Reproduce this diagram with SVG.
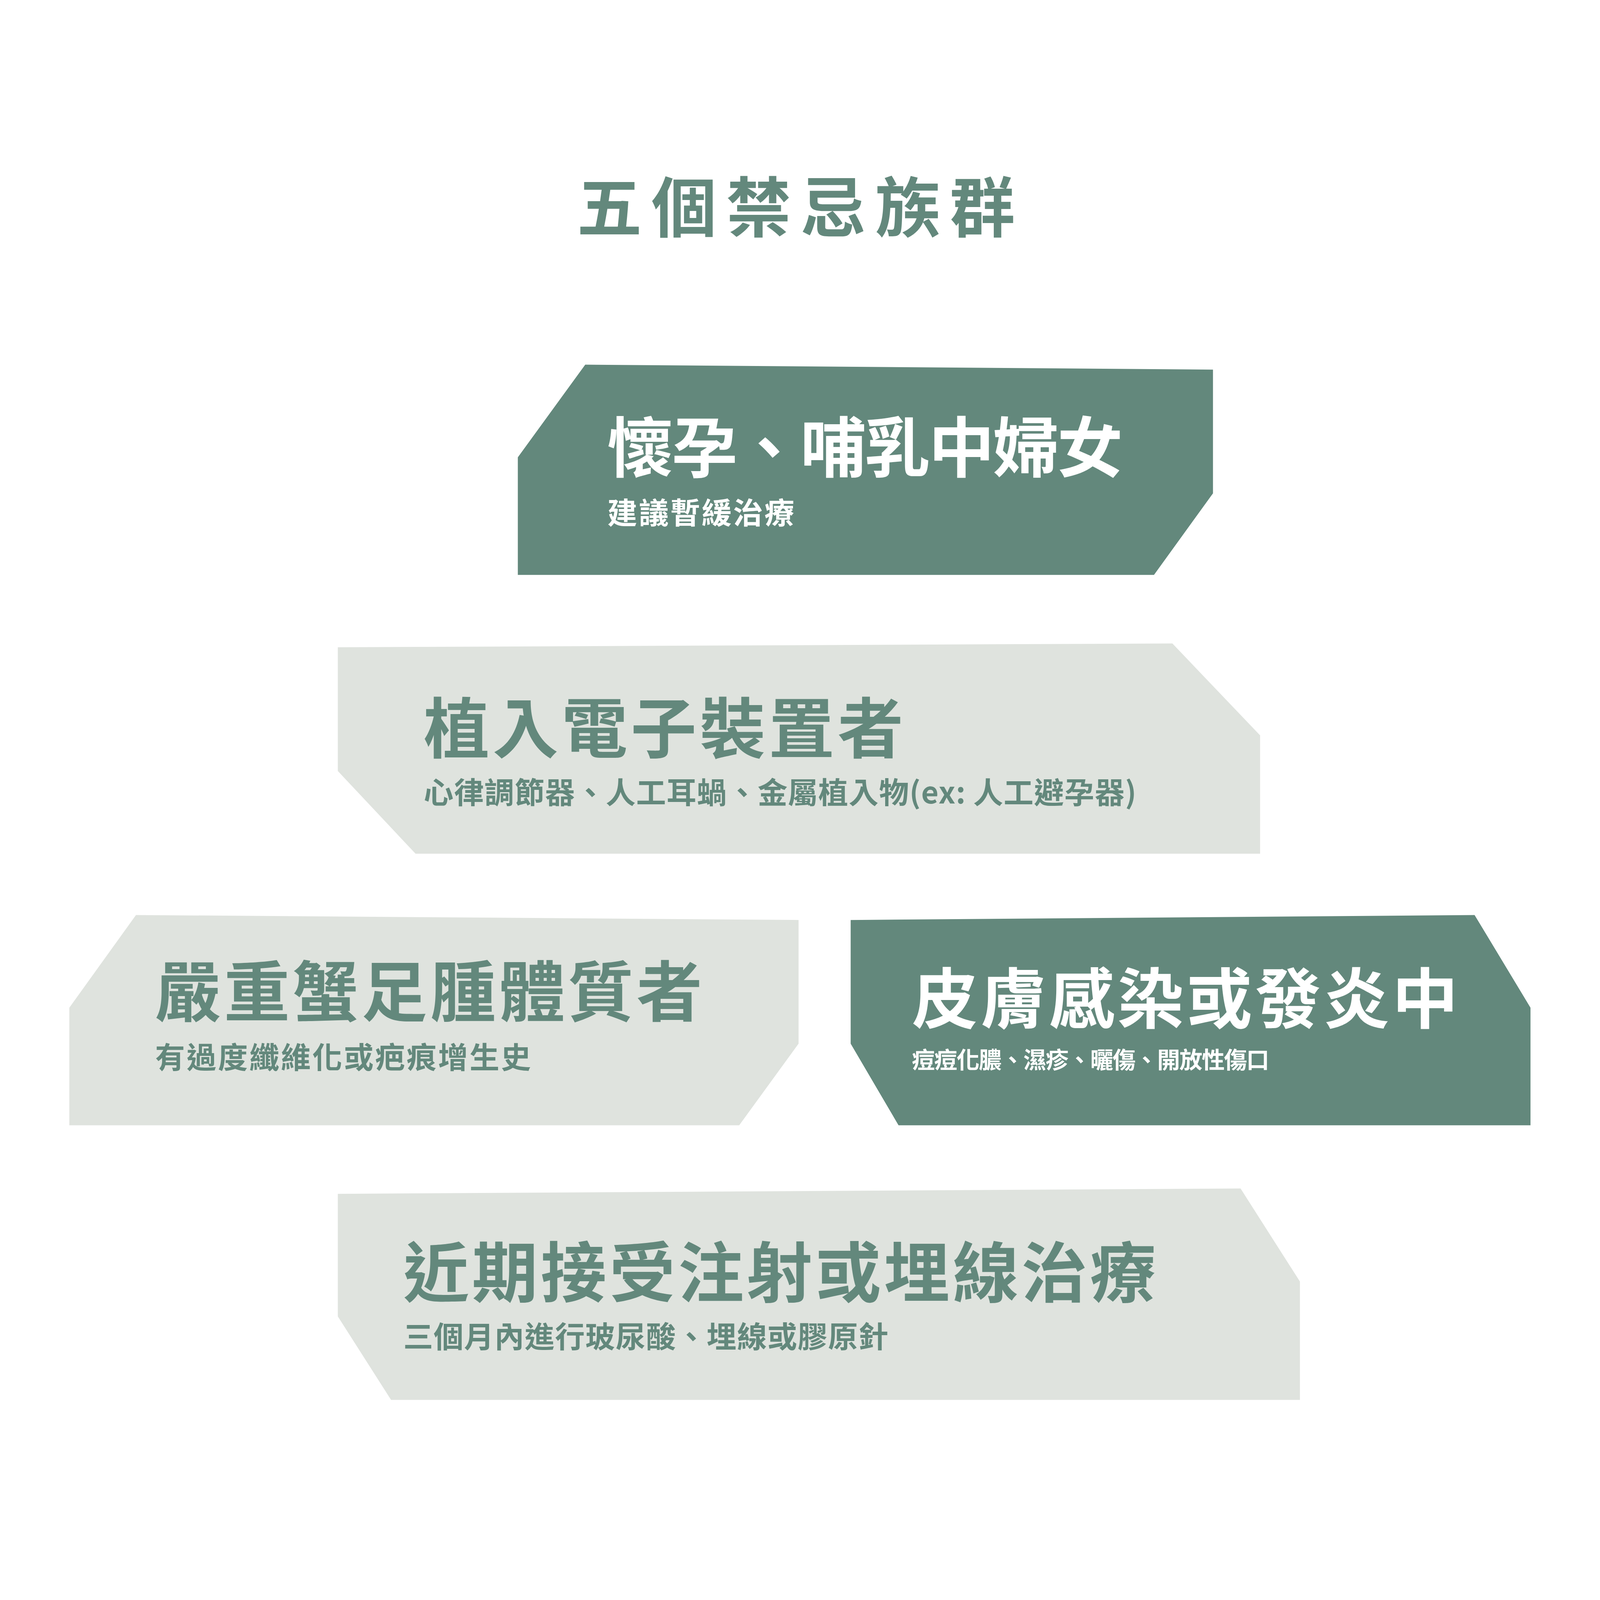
<svg xmlns="http://www.w3.org/2000/svg" width="4167" height="4167" viewBox="0 0 4167 4167">
<style>
.dark{fill:#63887c}
.light{fill:#dfe3de}
text{font-family:"Noto Sans CJK TC","Noto Sans CJK SC",sans-serif;font-weight:700}
.t{font-size:172px}
.s{font-size:78px}
.w{fill:#ffffff}
.g{fill:#63887c}
</style>
<rect width="4167" height="4167" fill="#ffffff"/>
<g transform="scale(0.9805)">
<text x="2093" y="605" text-anchor="middle" class="g" font-size="170" letter-spacing="30" textLength="1174">五個禁忌族群</text>
<g id="n1">
<polygon class="dark" points="1528,952 3167,965 3167,1288 3013,1501 1352,1501 1352,1194"/>
<text x="1586" y="1232" class="t w" textLength="1346">懷孕、哺乳中婦女</text>
<text x="1586" y="1368" class="s w" textLength="488">建議暫緩治療</text>
</g>
<g id="n2">
<polygon class="light" points="882,1690 3061,1680 3290,1920 3290,2229 1085,2229 882,2013"/>
<text x="1106" y="1965" class="t g" textLength="1253">植入電子裝置者</text>
<text x="1106" y="2098" class="s g" textLength="1861">心律調節器、人工耳蝸、金屬植入物(ex: 人工避孕器)</text>
</g>
<g id="n3">
<polygon class="light" points="355,2389 2085,2402 2085,2725 1930,2938 181,2938 181,2631"/>
<text x="405" y="2653" class="t g" textLength="1429">嚴重蟹足腫體質者</text>
<text x="405" y="2789" class="s g" textLength="981">有過度纖維化或疤痕增生史</text>
</g>
<g id="n4">
<polygon class="dark" points="2221,2402 3850,2389 3996,2631 3996,2938 2346,2938 2221,2725"/>
<text x="2381" y="2671" class="t w" textLength="1426">皮膚感染或發炎中</text>
<text x="2381" y="2789" class="w" font-size="60" textLength="933">痘痘化膿、濕疹、曬傷、開放性傷口</text>
</g>
<g id="n5">
<polygon class="light" points="882,3117 3239,3103 3394,3346 3394,3655 1021,3655 882,3437"/>
<text x="1053" y="3386" class="t g" textLength="1965">近期接受注射或埋線治療</text>
<text x="1053" y="3519" class="s g" textLength="1266">三個月內進行玻尿酸、埋線或膠原針</text>
</g>
</g>
<g id="connectors"></g>
</svg>
